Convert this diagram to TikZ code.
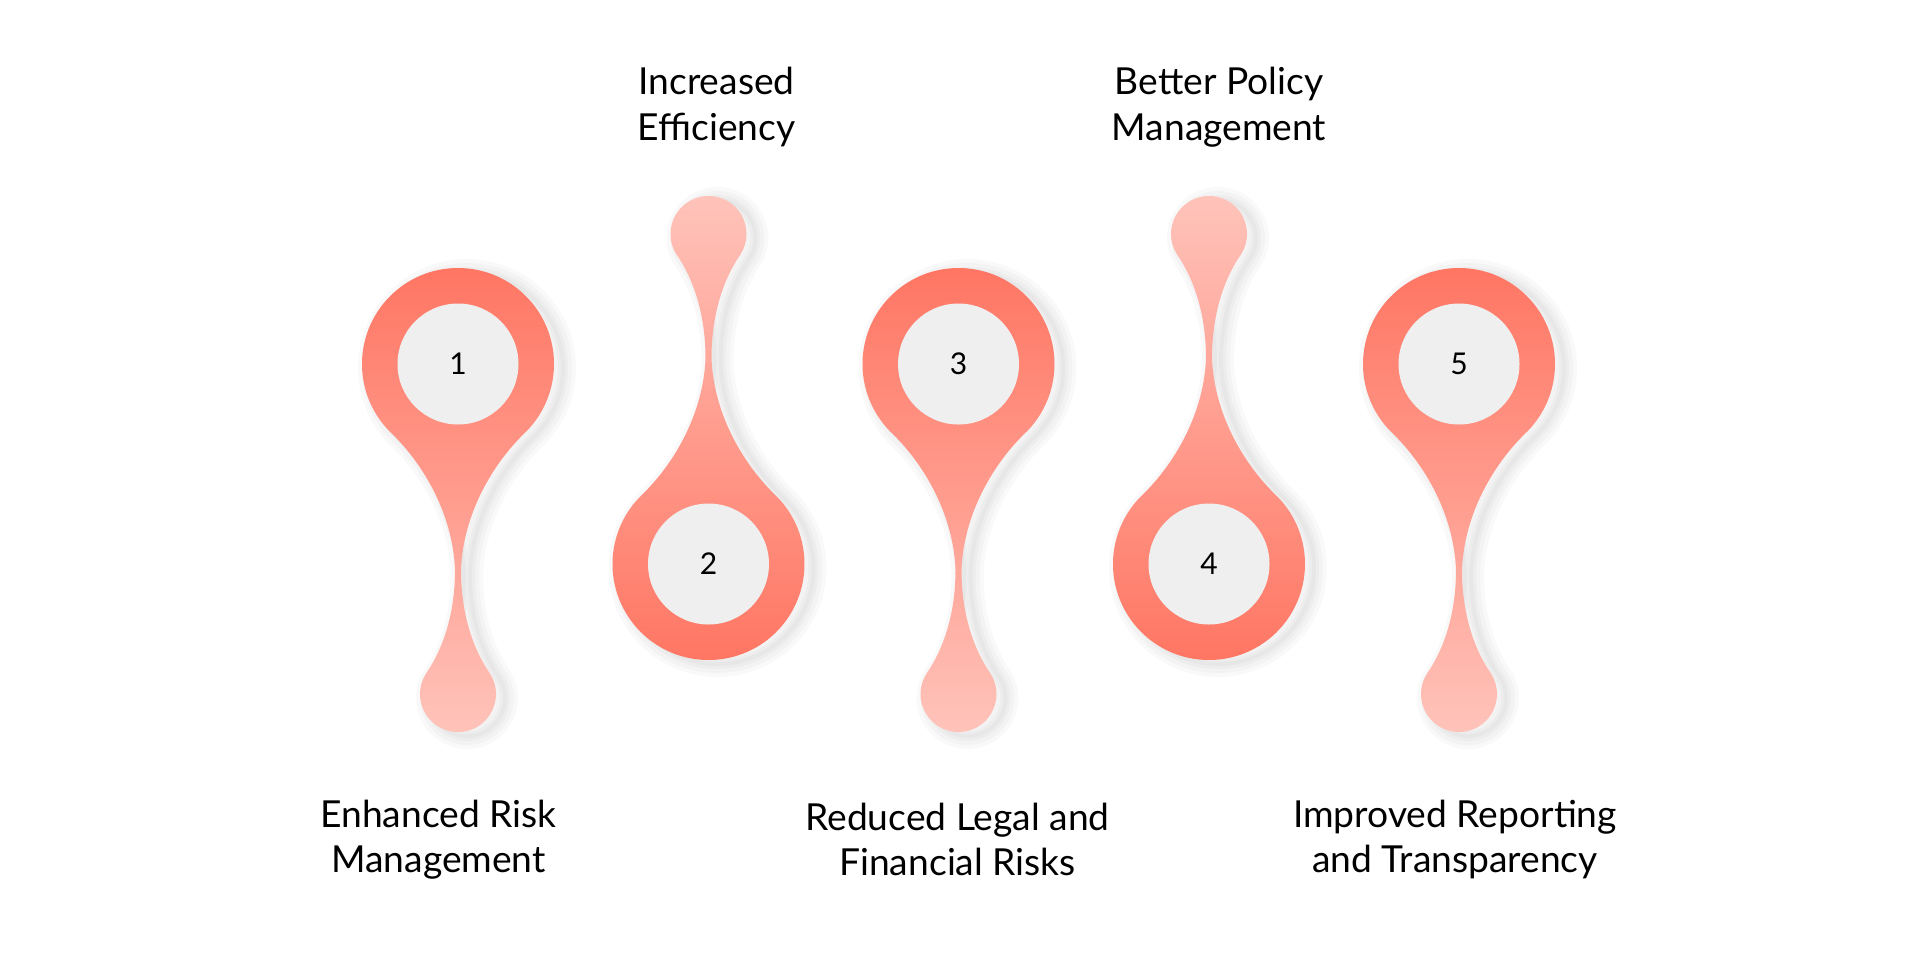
\documentclass[tikz,border=0pt]{standalone}
\usepackage{fontspec}
\setmainfont{Lato}
\usepackage{tikz}
\definecolor{dropdark}{HTML}{FF7461}
\definecolor{droplight}{HTML}{FFC4BB}
\definecolor{innergray}{HTML}{EFEFEF}
\tikzstyle{shadowlayer} = [black, opacity=0.022, line join=round]
\tikzstyle{innercircle} = [circle,
fill=innergray,
minimum size=60.5pt,
inner sep=0pt,
font=\fontsize{15}{18}\selectfont]
\tikzstyle{labeltext} = [align=center,
text=black,
font=\fontsize{18.6}{22.8}\selectfont]
% outline of one drop, big head at the origin, tail towards +y
\newcommand{\droppath}{(47:96) arc (47:-227:96)
 .. controls (-35,100) and (-5,150) .. (-3,206)
 .. controls (-3,250) and (-15,285) .. (-32.2,309.9)
 arc (212:-32:38)
 .. controls (15,285) and (3,250) .. (3,206)
 .. controls (5,150) and (35,100) .. (65.5,70.2) -- cycle}
% drop with big head at (#1,#2); #3 = 1 tail down, -1 tail up; #4/#5 top/bottom colour
\newcommand{\dropshape}[5]{%
\begin{scope}[shift={(#1,#2)}, yscale=#3]
\begin{scope}[shift={(9,4*#3)}]
\foreach \w in {13,9,5,2}
  \draw[shadowlayer, line width=\w pt] \droppath;
\end{scope}
\shade[top color=#4, bottom color=#5] \droppath;
\end{scope}}

\begin{document}
\begin{tikzpicture}[x=0.5pt, y=-0.5pt]
		\useasboundingbox[fill=white] (0,0) rectangle (1917,954);

		\dropshape{458}{364}{1}{dropdark}{droplight}
		\dropshape{708.5}{564}{-1}{droplight}{dropdark}
		\dropshape{958.5}{364}{1}{dropdark}{droplight}
		\dropshape{1209}{564}{-1}{droplight}{dropdark}
		\dropshape{1459}{364}{1}{dropdark}{droplight}

		\node (c1) [innercircle] at (458,364) {1};
		\node (c2) [innercircle] at (708.5,564) {2};
		\node (c3) [innercircle] at (958.5,364) {3};
		\node (c4) [innercircle] at (1209,564) {4};
		\node (c5) [innercircle] at (1459,364) {5};

		\node (risk) [labeltext] at (438.5,839.5) {Enhanced Risk\\Management};
		\node (effic) [labeltext] at (716.5,107) {Increased\\Efficiency};
		\node (legal) [labeltext] at (957.5,839.5) {Reduced Legal and\\Financial Risks};
		\node (policy) [labeltext] at (1219,107) {Better Policy\\Management};
		\node (report) [labeltext] at (1455,839.5) {Improved Reporting\\and Transparency};
	\end{tikzpicture}
\end{document}
